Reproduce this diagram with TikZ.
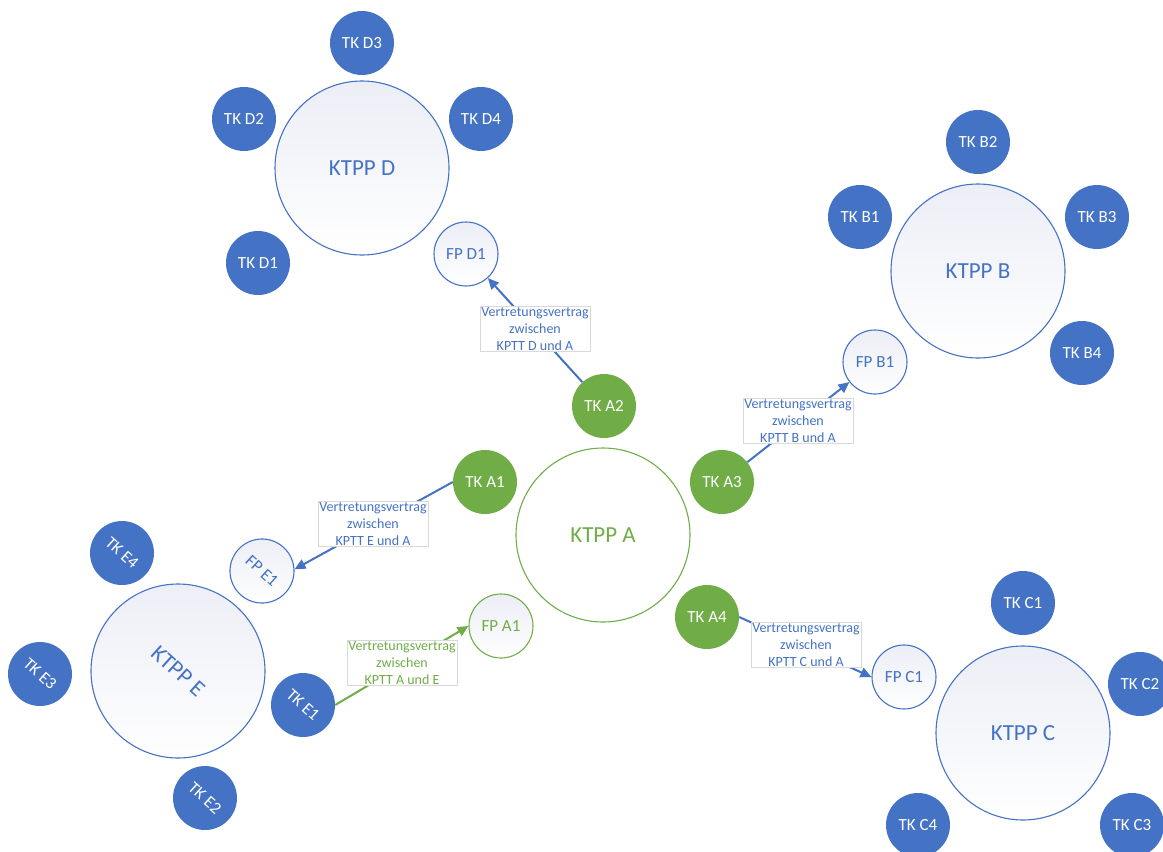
\documentclass[tikz,border=0pt]{standalone}
\usepackage{fontspec}
\setmainfont{Carlito}
\usepackage{tikz}
\usetikzlibrary{arrows.meta}
\definecolor{ktblue}{HTML}{4472C4}
\definecolor{ktgreen}{HTML}{70AD47}
\definecolor{ktshade}{HTML}{ECEEF6}

\begin{document}
\begin{tikzpicture}[x=1pt,y=-1pt]
    \tikzstyle{tk}=[circle,fill=ktblue,text=white,minimum size=64pt,inner sep=0pt,font=\fontsize{17}{20}\selectfont]
    \tikzstyle{tka}=[tk,fill=ktgreen]
    \tikzstyle{ring}=[circle,draw=ktblue,line width=1.1pt,text=ktblue,minimum size=174pt,inner sep=0pt,font=\fontsize{23}{26}\selectfont]
    \tikzstyle{ktpp}=[ring,top color=ktshade,bottom color=white]
    \tikzstyle{fp}=[ktpp,minimum size=64pt,font=\fontsize{17}{20}\selectfont]
    \tikzstyle{conn}=[draw=ktblue,line width=2pt,-{Triangle[length=11pt,width=10pt]}]
    \tikzstyle{lbl}=[fill=white,draw=black!15,line width=0.6pt,text=ktblue,align=center,inner sep=1.5pt,font=\fontsize{14}{16.7}\selectfont]
    \useasboundingbox (0,0) rectangle (1163,852);

    % KTPP A
    \node[ring,draw=ktgreen,fill=white,text=ktgreen] (ktppa) at (603,535) {KTPP A};
    \node[tka] (tka1) at (485,482) {TK A1};
    \node[tka] (tka2) at (604,406) {TK A2};
    \node[tka] (tka3) at (722,482) {TK A3};
    \node[tka] (tka4) at (707,617) {TK A4};
    \node[fp,draw=ktgreen,text=ktgreen] (fpa1) at (501,626) {FP A1};

    % KTPP B
    \node[ktpp] (ktppb) at (978,271) {KTPP B};
    \node[tk] (tkb1) at (860,217) {TK B1};
    \node[tk] (tkb2) at (978,142) {TK B2};
    \node[tk] (tkb3) at (1097,217) {TK B3};
    \node[tk] (tkb4) at (1082,353) {TK B4};
    \node[fp] (fpb1) at (875,362) {FP B1};

    % KTPP C
    \node[ktpp] (ktppc) at (1023,733) {KTPP C};
    \node[tk] (tkc1) at (1023,603) {TK C1};
    \node[tk] (tkc2) at (1140,684) {TK C2};
    \node[tk] (tkc3) at (1132,825) {TK C3};
    \node[tk] (tkc4) at (918,825) {TK C4};
    \node[fp] (fpc1) at (904,677) {FP C1};

    % KTPP D
    \node[ktpp] (ktppd) at (362,168) {KTPP D};
    \node[tk] (tkd1) at (258,263) {TK D1};
    \node[tk] (tkd2) at (244,119) {TK D2};
    \node[tk] (tkd3) at (362,43) {TK D3};
    \node[tk] (tkd4) at (481,119) {TK D4};
    \node[fp] (fpd1) at (466,254) {FP D1};

    % KTPP E (gedreht)
    \node[ktpp,rotate=-42] (ktppe) at (178,671) {KTPP E};
    \node[tk,rotate=-42] (tke1) at (303,705) {TK E1};
    \node[tk,rotate=-42] (tke2) at (205,798) {TK E2};
    \node[tk,rotate=-42] (tke3) at (40,674) {TK E3};
    \node[tk,rotate=-42] (tke4) at (122,553) {TK E4};
    \node[fp,rotate=-42] (fpe1) at (262,571) {FP E1};

    % Vertretungen
    \draw[conn] (tka2) -- (fpd1);
    \draw[conn] (tka3) -- (fpb1);
    \draw[conn] (tka1.west) -- (fpe1.45);
    \draw[conn] (tka4.east) -- (fpc1.west);
    \draw[conn,draw=ktgreen] (tke1.42) -- (fpa1.west);

    \node[lbl] (lbld) at (535,329) {Vertretungsvertrag\\zwischen\\KPTT D und A};
    \node[lbl] (lblb) at (798,421) {Vertretungsvertrag\\zwischen\\KPTT B und A};
    \node[lbl] (lble) at (373,524) {Vertretungsvertrag\\zwischen\\KPTT E und A};
    \node[lbl] (lblc) at (806,645) {Vertretungsvertrag\\zwischen\\KPTT C und A};
    \node[lbl,text=ktgreen] (lblae) at (402,663) {Vertretungsvertrag\\zwischen\\KPTT A und E};
\end{tikzpicture}
\end{document}
